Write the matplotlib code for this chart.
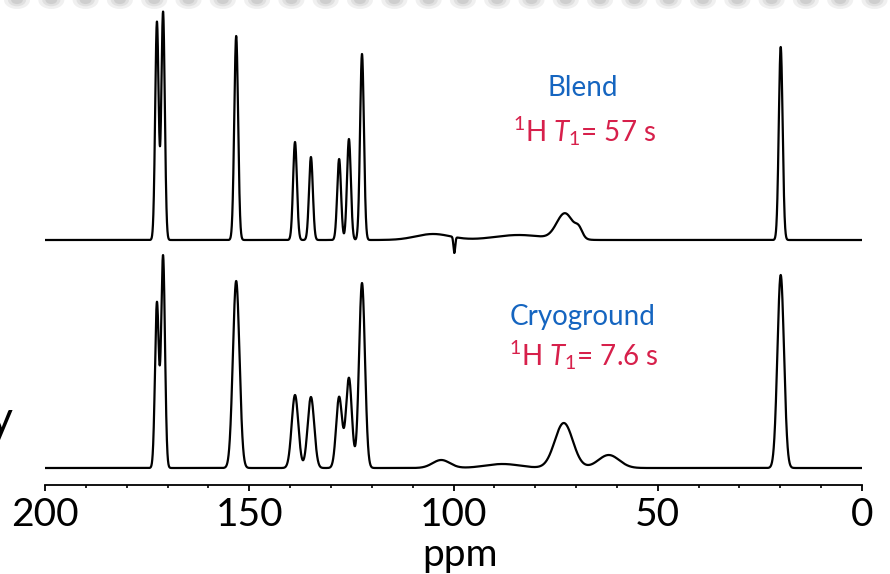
import numpy as np
import matplotlib
matplotlib.use("Agg")
import matplotlib.pyplot as plt
from matplotlib.ticker import MultipleLocator
from matplotlib.patches import Ellipse

plt.rcParams['font.family'] = ['Lato', 'DejaVu Sans']
plt.rcParams['mathtext.fontset'] = 'custom'
plt.rcParams['mathtext.rm'] = 'Lato'
plt.rcParams['mathtext.it'] = 'Lato:italic'

# peak lists: position (ppm), height (px), half width (ppm)
blend_pos = [172.6, 171.1, 153.2, 138.8, 134.9, 128.0, 125.6, 122.4, 105.0, 99.8, 84.0, 72.7, 69.3, 19.9]
blend_height = [218, 228, 204, 98, 83, 81, 101, 186, 6, -16, 5, 26, 8, 193]
blend_width = [0.5, 0.5, 0.55, 0.55, 0.55, 0.55, 0.55, 0.55, 5.0, 0.25, 7.0, 2.4, 1.0, 0.55]

cryo_pos = [172.6, 171.1, 153.2, 138.8, 134.9, 128.0, 125.6, 122.4, 103.0, 88.0, 73.0, 62.0, 19.9]
cryo_height = [165, 212, 187, 73, 71, 71, 90, 185, 8, 4, 45, 13, 193]
cryo_width = [0.55, 0.55, 0.95, 0.95, 0.95, 0.85, 0.85, 0.85, 2.5, 5.0, 2.6, 3.0, 0.95]

xticks = [200, 150, 100, 50, 0]
labels = ['Blend', 'Cryoground']
t1_labels = ['$^{1}$H $T_{1}$= 57 s', '$^{1}$H $T_{1}$= 7.6 s']

W, H = 890, 574


def px(x, y):
    return x / W, 1 - y / H


def spectrum(ppm, pos, height, width):
    y = np.zeros_like(ppm)
    for p, h, w in zip(pos, height, width):
        y += h * np.exp(-np.log(2) * ((ppm - p) / w) ** 2)
    return y


ppm = np.linspace(200, 0, 10001)

fig = plt.figure(figsize=(W / 100, H / 100), dpi=100)
ax = fig.add_axes([45 / W, 1 - 485 / H, (862 - 45) / W, 485 / H])

# stacked traces
ax.plot(ppm, 245 + spectrum(ppm, blend_pos, blend_height, blend_width), color='black', lw=1.6)
ax.plot(ppm, 17 + spectrum(ppm, cryo_pos, cryo_height, cryo_width), color='black', lw=1.6)

ax.set_xlim(200, 0)
ax.set_ylim(0, 485)
ax.set_yticks([])
ax.set_xticks(xticks)
ax.set_xticklabels([str(t) for t in xticks])
ax.xaxis.set_minor_locator(MultipleLocator(10))
ax.tick_params(which='major', direction='out', length=4.5, width=1.3, pad=4, labelsize=28)
ax.tick_params(which='minor', direction='out', length=2.5, width=1.2)
for s in ['left', 'right', 'top']:
    ax.spines[s].set_visible(False)
ax.spines['bottom'].set_linewidth(1.3)
ax.patch.set_alpha(0)

fig.text(*px(460, 566), 'ppm', ha='center', va='baseline', fontsize=28)

# sample labels
fig.text(*px(583, 88), labels[0], ha='center', va='center', fontsize=20, color='#1565C0')
fig.text(*px(585, 131), t1_labels[0], ha='center', va='center', fontsize=20, color='#D7204B')
fig.text(*px(583, 317), labels[1], ha='center', va='center', fontsize=20, color='#1565C0')
fig.text(*px(584, 355), t1_labels[1], ha='center', va='center', fontsize=20, color='#D7204B')

# cropped letter at the left edge
fig.text(*px(13, 433), 'y', ha='right', va='baseline', fontsize=32)

# blurred dotted border along the top
for cx in np.arange(17, W + 20, 34.3):
    for k, a in zip([1.0, 0.7, 0.45], [0.12, 0.15, 0.2]):
        e = Ellipse(px(cx, 0), 26 * k / W, 18 * k / H, transform=fig.transFigure,
                    color='#888888', alpha=a, lw=0)
        fig.add_artist(e)

fig.savefig('out.png', dpi=100)
